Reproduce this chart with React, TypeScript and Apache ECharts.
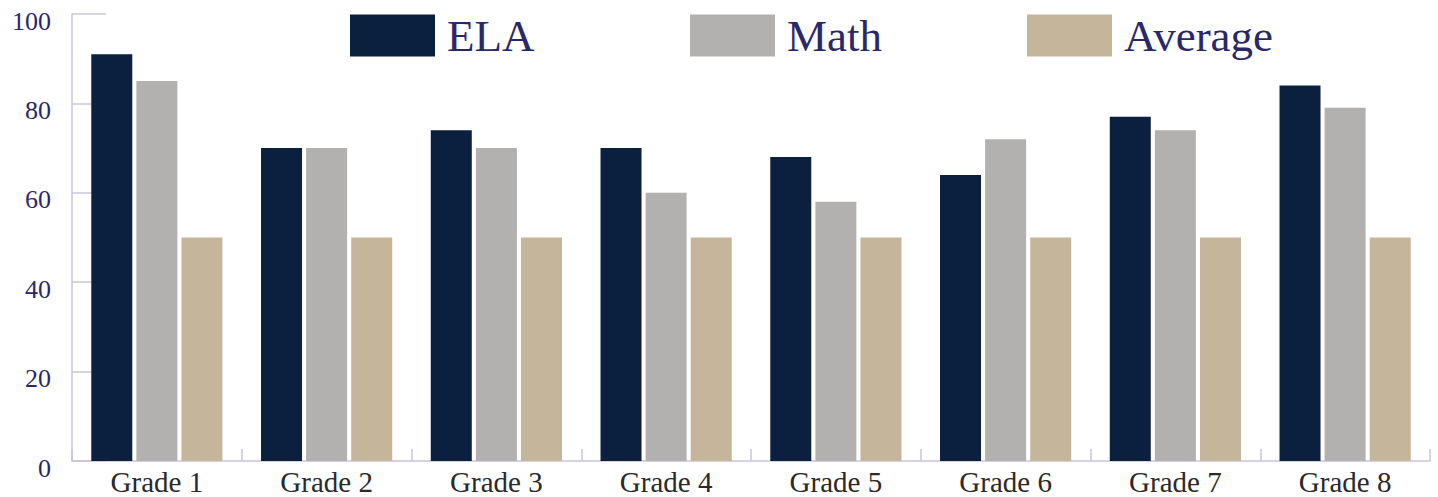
import React, { useEffect, useRef } from "react";
import * as echarts from "echarts";

const categories = ["Grade 1", "Grade 2", "Grade 3", "Grade 4", "Grade 5", "Grade 6", "Grade 7", "Grade 8"];
const elaValues = [91, 70, 74, 70, 68, 64, 77, 84];
const mathValues = [85, 70, 70, 60, 58, 72, 74, 79];
const averageValues = [50, 50, 50, 50, 50, 50, 50, 50];
const seriesNames = ["ELA", "Math", "Average"];

const FONT = "'Liberation Serif', 'Times New Roman', serif";
const AXIS_COLOR = "#c9c5da";
const NAVY_TEXT = "#2b2868";

export default function App() {
  const ref = useRef<HTMLDivElement>(null);
  useEffect(() => {
    if (!ref.current) return;
    const chart = echarts.init(ref.current, undefined, { renderer: "svg" });
    const legendLefts = [350, 690, 1027];
    chart.setOption({
      animation: false,
      textStyle: { fontFamily: FONT },
      legend: seriesNames.map((n, i) => ({
        data: [n],
        left: legendLefts[i],
        top: 13,
        padding: 0,
        itemWidth: 85,
        itemHeight: 42,
        itemGap: 12,
        icon: "rect",
        textStyle: { fontFamily: FONT, fontSize: 45, color: NAVY_TEXT, padding: [4, 0, 0, 7] },
      })),
      grid: { left: 72, right: 8, top: 14, bottom: 36 },
      xAxis: {
        type: "category",
        data: categories,
        axisLine: { show: true, lineStyle: { color: AXIS_COLOR, width: 1.5 } },
        axisTick: { show: true, inside: true, length: 12, lineStyle: { color: AXIS_COLOR, width: 1.5 } },
        axisLabel: { fontFamily: FONT, fontSize: 29, color: "#2a2a2a", margin: 6 },
        splitLine: { show: false },
      },
      yAxis: {
        type: "value",
        min: 0,
        max: 100,
        interval: 20,
        axisLine: { show: true, lineStyle: { color: AXIS_COLOR, width: 1.5 } },
        axisTick: { show: true, inside: true, length: 34, lineStyle: { color: AXIS_COLOR, width: 1.5 } },
        axisLabel: { fontFamily: FONT, fontSize: 26, color: NAVY_TEXT, margin: 21, verticalAlign: "top", lineHeight: 14 },
        splitLine: { show: false },
      },
      series: [
        { name: "ELA", type: "bar", data: elaValues, barWidth: 41, barGap: "10%", itemStyle: { color: "#0b1f3f" } },
        { name: "Math", type: "bar", data: mathValues, barWidth: 41, barGap: "10%", itemStyle: { color: "#b2b1af" } },
        { name: "Average", type: "bar", data: averageValues, barWidth: 41, barGap: "10%", itemStyle: { color: "#c4b59b" } },
      ],
    });
    return () => chart.dispose();
  }, []);
  return <div ref={ref} style={{ width: 1438, height: 497, position: "absolute", left: 0, top: 0 }} />;
}
